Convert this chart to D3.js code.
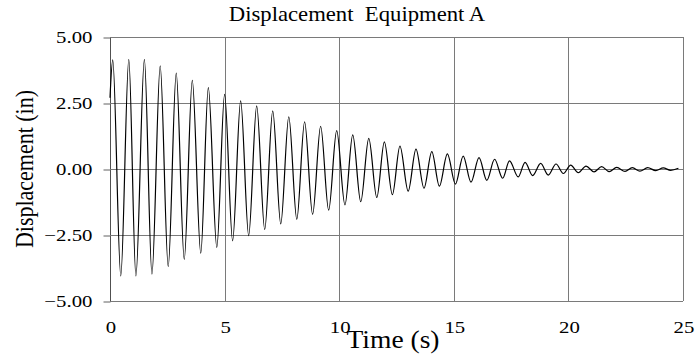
<!DOCTYPE html>
<html><head><meta charset="utf-8">
<script src="https://cdn.jsdelivr.net/npm/d3@7/dist/d3.min.js"></script>
<style>
html,body{margin:0;padding:0;background:#fff;}
svg{display:block;}
text{font-family:"Liberation Serif","Times New Roman",serif;fill:#000;white-space:pre;}
</style></head>
<body><svg id="c" width="695" height="360"></svg>
<script>
const title = "Displacement  Equipment A";
const xLabel = "Time (s)";
const yLabel = "Displacement (in)";
const xTicks = [0, 5, 10, 15, 20, 25];
const yTicks = [-5, -2.5, 0, 2.5, 5];
const startTime = 0, startValue = 2.7;
const peakTimes = [0.12,0.82,1.50,2.19,2.89,3.59,4.29,5.00,5.70,6.40,7.10,7.80,8.49,9.19,9.89,10.59,11.29,11.97,12.65,13.35,14.04,14.72,15.41,16.10,16.78,17.43,18.11,18.79,19.46,20.10,20.77,21.45,22.11,22.79,23.46,24.14,24.80];
const peakValues = [4.13,4.15,4.15,3.91,3.63,3.36,3.08,2.83,2.58,2.39,2.20,1.98,1.79,1.62,1.45,1.29,1.16,1.03,0.87,0.75,0.66,0.57,0.49,0.43,0.37,0.31,0.25,0.21,0.19,0.15,0.11,0.09,0.06,0.05,0.05,0.04,0.03];
const troughTimes = [0.47,1.13,1.83,2.54,3.24,3.96,4.66,5.35,6.05,6.75,7.45,8.15,8.84,9.54,10.25,10.94,11.64,12.32,13.01,13.70,14.37,15.07,15.75,16.44,17.13,17.81,18.44,19.12,19.78,20.43,21.12,21.78,22.47,23.12,23.81,24.46];
const troughValues = [-4.05,-4.05,-3.98,-3.70,-3.42,-3.19,-2.97,-2.72,-2.52,-2.30,-2.08,-1.91,-1.72,-1.56,-1.36,-1.24,-1.08,-0.97,-0.84,-0.73,-0.65,-0.57,-0.50,-0.43,-0.35,-0.30,-0.25,-0.23,-0.17,-0.14,-0.11,-0.10,-0.09,-0.08,-0.06,-0.05];

const points = [[startTime, startValue]]
  .concat(peakTimes.map((t,i)=>[t, peakValues[i]]))
  .concat(troughTimes.map((t,i)=>[t, troughValues[i]]))
  .sort((a,b)=>a[0]-b[0]);

const svg = d3.select("#c");
const L = 110, R = 683, T = 37, B = 301;
const x = d3.scaleLinear().domain([0,25]).range([L,R]);
const y = d3.scaleLinear().domain([-5,5]).range([B,T]);

function stretch(sel, k){
  sel.each(function(){
    const w = this.getComputedTextLength();
    d3.select(this).attr("textLength", w*k).attr("lengthAdjust","spacingAndGlyphs");
  });
}

// grid
const g = svg.append("g");
g.selectAll("line.v").data(xTicks).join("line")
  .attr("x1", d=>Math.round(x(d))+0.5).attr("x2", d=>Math.round(x(d))+0.5)
  .attr("y1", T).attr("y2", B)
  .attr("stroke", d=> d===0 ? "#505050" : "#7a7a7a").attr("stroke-width",1);
g.selectAll("line.h").data(yTicks).join("line")
  .attr("y1", d=>Math.round(y(d))+0.5).attr("y2", d=>Math.round(y(d))+0.5)
  .attr("x1", L).attr("x2", R)
  .attr("stroke", "#7a7a7a").attr("stroke-width",1);

// y axis
const ya = svg.append("g").attr("transform",`translate(${L+0.5},0.5)`)
  .call(d3.axisLeft(y).tickValues(yTicks).tickSize(7).tickPadding(11).tickFormat(d3.format(".2f")));
ya.select(".domain").remove();
ya.selectAll(".tick line").attr("stroke","#606060");
ya.selectAll("text").attr("font-size",16).attr("font-family","Liberation Serif").attr("fill","#000").call(stretch,1.3);

// x axis (labels only)
const xa = svg.append("g").attr("transform",`translate(0.5,${B+0.5})`)
  .call(d3.axisBottom(x).tickValues(xTicks).tickSize(0).tickPadding(20).tickFormat(d3.format("d")));
xa.select(".domain").remove();
xa.selectAll("text").attr("font-size",16).attr("font-family","Liberation Serif").attr("fill","#000").call(stretch,1.3);

// line
const line = d3.line().x(d=>x(d[0])).y(d=>y(d[1])).curve(d3.curveMonotoneX);
svg.append("path").datum(points).attr("d", line)
  .attr("fill","none").attr("stroke","#000").attr("stroke-width",1.2);

// titles
svg.append("text").attr("x",357).attr("y",21).attr("text-anchor","middle")
  .attr("font-size",21).text(title).call(stretch,1.08);
svg.append("text").attr("x",393).attr("y",348).attr("text-anchor","middle")
  .attr("font-size",26).attr("textLength",93).attr("lengthAdjust","spacingAndGlyphs").text(xLabel);
svg.append("text").attr("transform","translate(33,169) rotate(-90)").attr("text-anchor","middle")
  .attr("font-size",25).attr("textLength",158).attr("lengthAdjust","spacingAndGlyphs").text(yLabel);
</script></body></html>
